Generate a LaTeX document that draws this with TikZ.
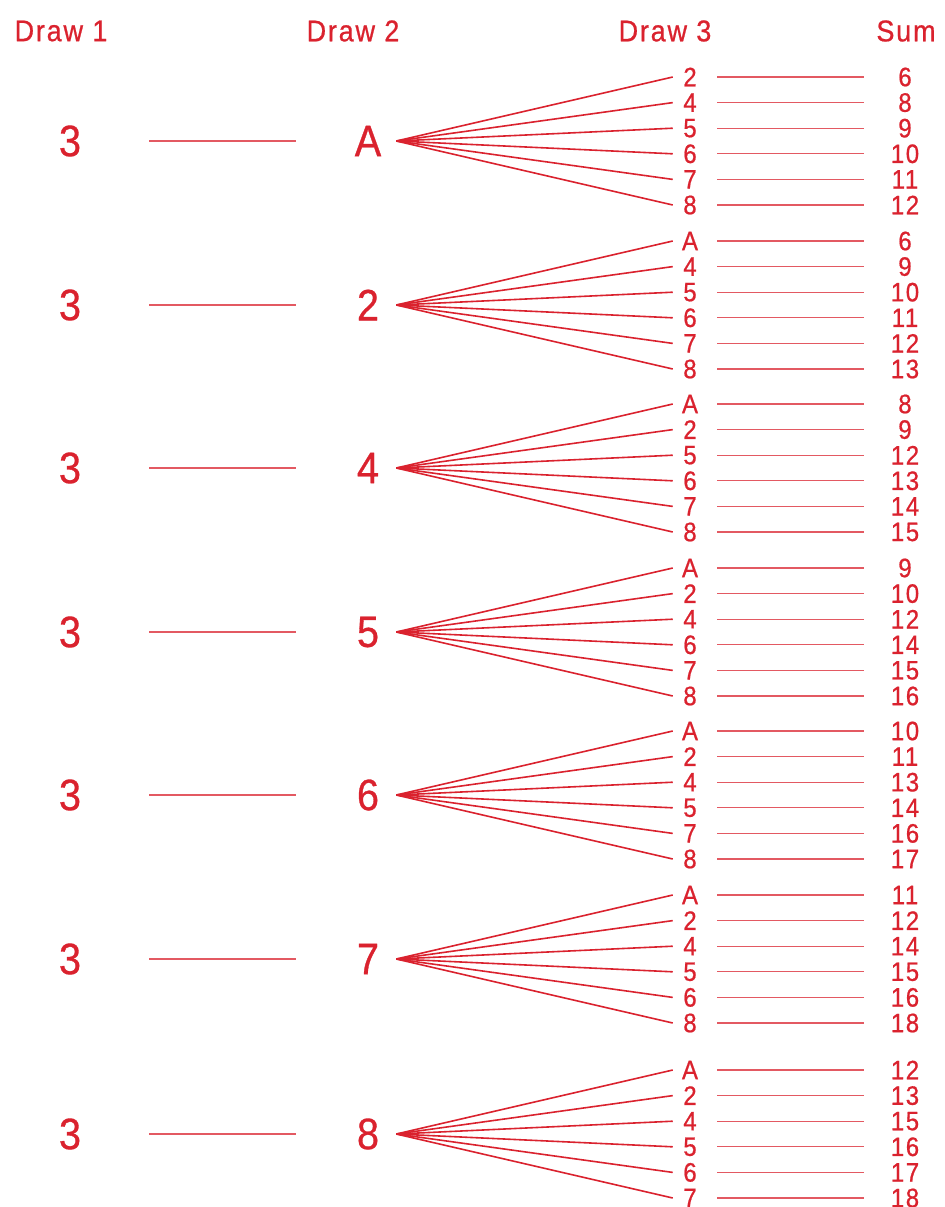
\documentclass[tikz,border=0pt]{standalone}
\usepackage{fontspec}
\setmainfont{Liberation Sans}[FakeStretch=0.9,LetterSpace=6,FakeBold=0.7]
\definecolor{cred}{RGB}{218,34,46}
\begin{document}
\begin{tikzpicture}[x=0.75pt,y=-0.75pt,
  every node/.style={text=cred,inner sep=0pt,anchor=center},
  hdr/.style={font=\fontsize{22.5}{22.5}\selectfont},
  bigd/.style={font=\fontsize{33}{33}\selectfont},
  d1box/.style={bigd,minimum width=118.5pt},
  d2box/.style={bigd,minimum width=42pt},
  d3box/.style={font=\fontsize{20}{20}\selectfont,minimum width=25.5pt},
  sumbox/.style={font=\fontsize{20}{20}\selectfont,minimum width=61.5pt},
  fan/.style={draw=cred,line width=1.2pt},
  thin/.style={draw=cred!75,line width=0.8pt}]
\useasboundingbox (0,0) rectangle (945,1207);
\node[hdr] (h1) at (61,31) {Draw 1};
\node[hdr] (h2) at (353,31) {Draw 2};
\node[hdr] (h3) at (665,31) {Draw 3};
\node[hdr] (h4) at (906,31) {Sum};
\foreach \g/\y/\d/\L in {
  1/141/A/{2/6,4/8,5/9,6/10,7/11,8/12},
  2/305/2/{A/6,4/9,5/10,6/11,7/12,8/13},
  3/468/4/{A/8,2/9,5/12,6/13,7/14,8/15},
  4/632/5/{A/9,2/10,4/12,6/14,7/15,8/16},
  5/795/6/{A/10,2/11,4/13,5/14,7/16,8/17},
  6/959/7/{A/11,2/12,4/14,5/15,6/16,8/18},
  7/1134/8/{A/12,2/13,4/15,5/16,6/17,7/18}}{
  \node[d1box] (a\g) at (70,\y) {3};
  \node[d2box] (b\g) at (368,\y) {\d};
  \draw[thin] (a\g.east) -- ([xshift=-33pt]b\g.west);
  \foreach \t/\s [count=\i] in \L {
    \node[d3box] (c\g\i) at (690,{\y+(\i-3.5)*25.6}) {\t};
    \node[sumbox] (s\g\i) at (905,{\y+(\i-3.5)*25.6}) {\s};
    \draw[fan] (b\g.east) -- (c\g\i.west);
    \draw[thin] ([xshift=7.5pt]c\g\i.east) -- (s\g\i.west);
  }
}
\end{tikzpicture}
\end{document}
